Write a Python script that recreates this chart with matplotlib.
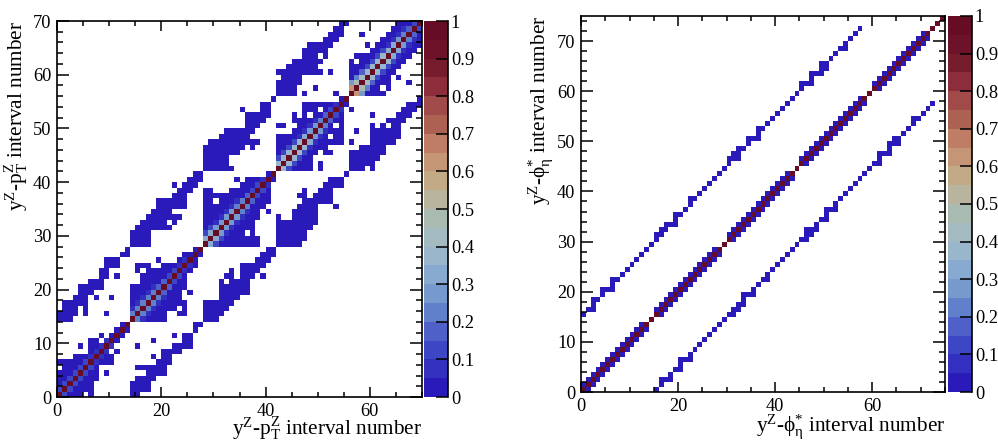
import numpy as np
import matplotlib
matplotlib.use("Agg")
import matplotlib.pyplot as plt
from matplotlib.colors import ListedColormap, BoundaryNorm

plt.rcParams["font.family"] = "Liberation Serif"
plt.rcParams["mathtext.fontset"] = "custom"
plt.rcParams["mathtext.rm"] = "Liberation Serif"
plt.rcParams["mathtext.it"] = "Liberation Serif:italic"
plt.rcParams["mathtext.default"] = "rm"

# colour levels of the z scale, 0 to 1 in steps of 0.05
level_colors = ["#2a1ab9", "#3330bf", "#3d47c5", "#4f60c8", "#6080cb",
                "#769acd", "#88a9d0", "#99b6cb", "#a3bac1", "#a9bab0",
                "#b8b49d", "#c3aa86", "#c49675", "#bf7d66", "#ad6153",
                "#a04a4a", "#8d2c3a", "#771c2c", "#6d1228", "#670c25"]
level_edges = [i / 20 for i in range(21)]
cbar_ticks = [0, 0.1, 0.2, 0.3, 0.4, 0.5, 0.6, 0.7, 0.8, 0.9, 1]
cbar_labels = ["0", "0.1", "0.2", "0.3", "0.4", "0.5", "0.6", "0.7", "0.8", "0.9", "1"]

# left matrix: filled columns right of the diagonal, one list of runs per row
left_runs = [
    [(0, 4), (6, 6), (14, 15)],
    [(1, 6), (14, 17)],
    [(2, 6), (14, 17)],
    [(3, 7), (15, 18)],
    [(4, 7), (9, 9), (17, 20)],
    [(5, 7), (15, 20)],
    [(6, 10), (19, 21)],
    [(7, 10), (18, 18), (20, 21)],
    [(8, 9), (11, 11), (20, 23)],
    [(9, 10), (15, 15), (22, 25)],
    [(10, 11), (18, 18), (24, 25)],
    [(11, 12), (22, 22), (24, 25)],
    [(12, 13), (26, 26)],
    [(13, 13), (26, 27)],
    [(14, 20), (28, 30)],
    [(15, 20), (23, 24), (28, 31)],
    [(16, 22), (24, 24), (28, 32)],
    [(17, 24), (28, 33)],
    [(18, 23), (31, 34)],
    [(19, 23), (25, 25), (31, 36)],
    [(20, 24), (31, 36)],
    [(21, 24), (31, 31), (33, 36)],
    [(22, 24), (32, 33), (35, 37), (39, 39)],
    [(23, 25), (33, 33), (35, 38)],
    [(24, 26), (35, 39)],
    [(25, 26), (38, 40)],
    [(26, 27), (39, 41)],
    [(27, 27), (40, 41)],
    [(28, 38), (42, 46)],
    [(29, 38), (42, 47)],
    [(30, 35), (37, 37), (42, 47)],
    [(31, 37), (42, 48)],
    [(32, 37), (42, 49)],
    [(33, 38), (42, 42), (45, 49)],
    [(34, 38), (40, 40), (45, 49)],
    [(35, 39), (46, 49), (53, 53)],
    [(36, 40), (47, 52)],
    [(37, 40), (46, 47), (49, 52)],
    [(38, 40), (47, 47), (50, 52)],
    [(39, 40), (51, 54)],
    [(40, 41), (52, 54)],
    [(41, 41), (55, 55)],
    [(42, 48), (50, 50), (56, 58), (60, 60)],
    [(43, 48), (50, 50), (56, 60)],
    [(44, 48), (56, 61)],
    [(45, 49), (51, 52), (56, 62)],
    [(46, 51), (58, 62)],
    [(47, 54), (56, 56), (60, 64)],
    [(48, 51), (53, 54), (60, 65)],
    [(49, 54), (57, 57), (60, 65)],
    [(50, 52), (54, 54), (60, 60), (62, 62), (64, 65)],
    [(51, 54), (63, 66)],
    [(52, 54), (60, 60), (65, 67)],
    [(53, 54), (56, 56), (66, 68)],
    [(54, 55), (67, 69)],
    [(55, 55), (69, 69)],
    [(56, 62)],
    [(57, 61), (63, 63)],
    [(58, 63), (67, 67)],
    [(59, 63), (65, 65)],
    [(60, 64)],
    [(61, 65)],
    [(62, 66)],
    [(63, 67)],
    [(64, 68)],
    [(65, 69)],
    [(66, 69)],
    [(67, 69)],
    [(68, 69)],
    [(69, 69)],
]

# correlation next to the diagonal, per row of the left matrix
left_near1 = [0.12, 0.12, 0.12, 0.1, 0.1, 0.1, 0.08, 0.08, 0.06, 0.06, 0.04, 0.04, 0.03, 0.02,
              0.22, 0.22, 0.2, 0.2, 0.2, 0.15, 0.15, 0.12, 0.1, 0.08, 0.06, 0.04, 0.03, 0.02,
              0.3, 0.3, 0.28, 0.28, 0.25, 0.25, 0.22, 0.2, 0.18, 0.12, 0.1, 0.08, 0.04, 0.02,
              0.38, 0.38, 0.35, 0.35, 0.35, 0.3, 0.28, 0.25, 0.22, 0.18, 0.12, 0.08, 0.04, 0.02,
              0.6, 0.45, 0.4, 0.38, 0.36, 0.35, 0.35, 0.33, 0.3, 0.28, 0.22, 0.18, 0.1, 0.02]
left_near2 = [0.03, 0.03, 0.03, 0.03, 0.03, 0.02, 0.02, 0.02, 0.02, 0.02, 0.02, 0.02, 0.02, 0.02,
              0.06, 0.06, 0.06, 0.05, 0.05, 0.04, 0.03, 0.03, 0.02, 0.02, 0.02, 0.02, 0.02, 0.02,
              0.1, 0.1, 0.08, 0.08, 0.06, 0.06, 0.05, 0.04, 0.03, 0.02, 0.02, 0.02, 0.02, 0.02,
              0.12, 0.12, 0.1, 0.1, 0.08, 0.07, 0.06, 0.05, 0.04, 0.03, 0.02, 0.02, 0.02, 0.02,
              0.25, 0.2, 0.15, 0.12, 0.12, 0.1, 0.1, 0.08, 0.07, 0.06, 0.05, 0.03, 0.02, 0.02]

# right matrix: filled columns of the far band, one list per row
right_band = [[15], [16], [16, 17, 18], [18], [19, 20], [20], [20, 21, 22], [22],
              [23], [24], [25], [26], [27], [28], [29],
              [30, 31], [31, 32], [32, 33], [33], [33, 34, 35], [35], [36], [37, 38], [38],
              [39], [40], [41], [42], [43], [44],
              [45, 46], [46, 47], [46, 47, 48], [48], [49, 50], [50], [50, 51, 52], [52],
              [53], [54], [55], [56], [57], [58], [59],
              [60, 61], [61], [61, 62, 63], [63], [63, 64, 65], [64, 65], [66], [67], [68],
              [68, 69], [70], [71], [72]]
# rows whose next cell along the diagonal is not filled
right_gaps = [13, 14, 28, 29, 43, 44, 58, 59, 71, 72, 73]
base_value = 0.02


def left_matrix():
    m = np.full((70, 70), np.nan)
    for row, runs in enumerate(left_runs):
        for start, end in runs:
            m[row, start:end + 1] = base_value
    for i in range(70):
        if i + 1 < 70 and not np.isnan(m[i, i + 1]):
            m[i, i + 1] = left_near1[i]
        if i + 2 < 70 and not np.isnan(m[i, i + 2]):
            m[i, i + 2] = left_near2[i]
        m[i, i] = 1.0
    return np.where(np.isnan(m), m.T, m)


def right_matrix():
    m = np.full((75, 75), np.nan)
    for row, cols in enumerate(right_band):
        m[row, cols] = base_value
    for i in range(75):
        m[i, i] = 1.0
        if i + 1 < 75 and i not in right_gaps:
            m[i, i + 1] = base_value
    return np.where(np.isnan(m), m.T, m)


def draw_panel(fig, rect, cbar_rect, matrix, xlabel, ylabel, xlabel_y, ylabel_x):
    ax = fig.add_axes(rect)
    n = matrix.shape[0]
    edges = np.arange(n + 1)
    mesh = ax.pcolormesh(edges, edges, np.ma.masked_invalid(matrix), cmap=cmap, norm=norm)
    ax.set_xlim(0, n)
    ax.set_ylim(0, n)
    ax.set_xticks(np.arange(0, n + 1, 20))
    ax.set_xticks(np.arange(0, n + 1, 5), minor=True)
    ax.set_yticks(np.arange(0, n + 1, 10))
    ax.set_yticks(np.arange(0, n + 1, 2), minor=True)
    ax.tick_params(axis="x", which="major", direction="in", top=True, length=7.2, width=1.1, labelsize=13.2, pad=4)
    ax.tick_params(axis="x", which="minor", direction="in", top=True, length=3.6, width=1.1)
    ax.tick_params(axis="y", which="major", direction="in", right=True, length=8.6, width=1.1, labelsize=13.2, pad=4)
    ax.tick_params(axis="y", which="minor", direction="in", right=True, length=4.3, width=1.1)
    for spine in ax.spines.values():
        spine.set_linewidth(1.2)
    # labels sit flush with the far end of each axis
    fig.text(rect[0] + rect[2], xlabel_y, xlabel, ha="right", va="center", fontsize=15.3)
    fig.text(ylabel_x, rect[1] + rect[3], ylabel, ha="center", va="top", rotation=90, fontsize=15.3)

    cax = fig.add_axes(cbar_rect)
    cb = fig.colorbar(mesh, cax=cax, ticks=cbar_ticks, spacing="proportional")
    cb.set_ticklabels(cbar_labels)
    cb.outline.set_visible(False)
    cb.ax.spines["right"].set_visible(True)
    cb.ax.spines["right"].set_linewidth(1.2)
    cb.ax.minorticks_off()
    cb.ax.tick_params(direction="in", length=8.6, width=1.1, labelsize=13.2, pad=2)
    return ax


cmap = ListedColormap(level_colors)
norm = BoundaryNorm(level_edges, cmap.N)

W, H = 998.0, 444.0
fig = plt.figure(figsize=(9.98, 4.44), dpi=100)

draw_panel(fig,
           [57 / W, 1 - 397 / H, 365 / W, 376 / H],
           [424 / W, 1 - 397 / H, 24 / W, 376 / H],
           left_matrix(),
           r"y$^{Z}$-p$_{T}^{Z}$ interval number",
           r"y$^{Z}$-p$_{T}^{Z}$ interval number",
           1 - 429 / H, 17 / W)

draw_panel(fig,
           [581 / W, 1 - 392 / H, 364 / W, 376 / H],
           [948 / W, 1 - 392 / H, 24 / W, 376 / H],
           right_matrix(),
           "y$^{Z}$-\u03d5$_{\\eta}^{*}$ interval number",
           "y$^{Z}$-\u03d5$_{\\eta}^{*}$ interval number",
           1 - 427 / H, 541 / W)

fig.savefig("out.png", dpi=100)
